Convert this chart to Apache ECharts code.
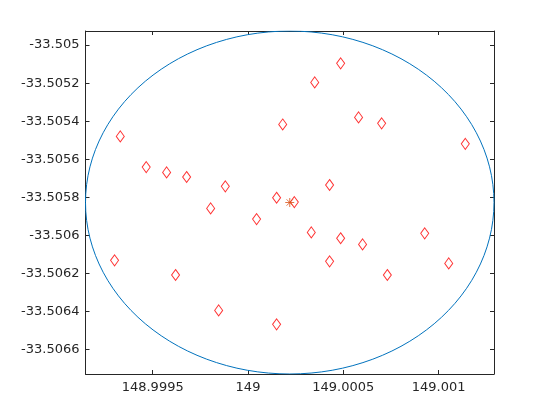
<!DOCTYPE html>
<html>
<head>
<meta charset="utf-8">
<script src="https://cdn.jsdelivr.net/npm/echarts@6/dist/echarts.min.js"></script>
<style>html,body{margin:0;padding:0;background:#fff}#c{width:560px;height:420px}</style>
</head>
<body>
<div id="c"></div>
<script>
// Data
const pointsLon = [148.999330,148.999466,148.999573,148.999678,148.999881,148.999804,148.999300,148.999620,148.999846,149.000045,149.000150,149.000243,149.000182,149.000350,149.000486,149.000580,149.000428,149.000701,149.001140,149.000332,149.000486,149.000601,149.000428,149.000150,149.000927,149.000731,149.001053];
const pointsLat = [-33.505480,-33.505641,-33.505669,-33.505693,-33.505742,-33.505858,-33.506131,-33.506208,-33.506394,-33.505914,-33.505802,-33.505825,-33.505417,-33.505196,-33.505096,-33.505380,-33.505735,-33.505411,-33.505519,-33.505984,-33.506015,-33.506047,-33.506136,-33.506467,-33.505989,-33.506208,-33.506147];
const centerLon = 149.000219;
const centerLat = -33.505827;
const radiusLon = 0.0010715;
const radiusLat = 0.000901;
const xTicks = [148.9995, 149, 149.0005, 149.001];
const yTicks = [-33.505, -33.5052, -33.5054, -33.5056, -33.5058, -33.506, -33.5062, -33.5064, -33.5066];
const xTickLabels = ['148.9995', '149', '149.0005', '149.001'];
const yTickLabels = ['-33.505', '-33.5052', '-33.5054', '-33.5056', '-33.5058', '-33.506', '-33.5062', '-33.5064', '-33.5066'];

const xMin = centerLon - radiusLon, xMax = centerLon + radiusLon;
const yMin = centerLat - radiusLat, yMax = centerLat + radiusLat;

const circle = [];
const N = 120;
for (let i = 0; i <= N; i++) {
  const t = 2 * Math.PI * i / N;
  circle.push([centerLon + radiusLon * Math.cos(t), centerLat + radiusLat * Math.sin(t)]);
}
const pts = pointsLon.map((x, i) => [x, pointsLat[i]]);

function fmt(arr, labels) {
  return function (v) {
    for (let i = 0; i < arr.length; i++) if (Math.abs(arr[i] - v) < 1e-9) return labels[i];
    return '';
  };
}
const axisColor = '#262626';
const font = { fontFamily: 'DejaVu Sans', fontSize: 13, color: '#262626' };

const chart = echarts.init(document.getElementById('c'), null, { renderer: 'canvas' });
chart.setOption({
  animation: false,
  backgroundColor: '#ffffff',
  grid: { left: 85.5, right: 66, top: 31, bottom: 46, containLabel: false },
  xAxis: [
    {
      type: 'value', min: xMin, max: xMax, position: 'bottom',
      axisLine: { show: true, onZero: false, lineStyle: { color: axisColor, width: 1 } },
      axisTick: { show: true, inside: true, length: 4, customValues: xTicks, lineStyle: { color: axisColor } },
      axisLabel: Object.assign({ show: true, margin: 7, customValues: xTicks, formatter: fmt(xTicks, xTickLabels) }, font),
      splitLine: { show: false }
    },
    {
      type: 'value', min: xMin, max: xMax, position: 'top',
      axisLine: { show: true, onZero: false, lineStyle: { color: axisColor, width: 1 } },
      axisTick: { show: true, inside: true, length: 4, customValues: xTicks, lineStyle: { color: axisColor } },
      axisLabel: { show: false },
      splitLine: { show: false }
    }
  ],
  yAxis: [
    {
      type: 'value', min: yMin, max: yMax, position: 'left',
      axisLine: { show: true, onZero: false, lineStyle: { color: axisColor, width: 1 } },
      axisTick: { show: true, inside: true, length: 4, customValues: yTicks, lineStyle: { color: axisColor } },
      axisLabel: Object.assign({ show: true, margin: 6, customValues: yTicks, formatter: fmt(yTicks, yTickLabels) }, font),
      splitLine: { show: false }
    },
    {
      type: 'value', min: yMin, max: yMax, position: 'right',
      axisLine: { show: true, onZero: false, lineStyle: { color: axisColor, width: 1 } },
      axisTick: { show: true, inside: true, length: 4, customValues: yTicks, lineStyle: { color: axisColor } },
      axisLabel: { show: false },
      splitLine: { show: false }
    }
  ],
  series: [
    {
      type: 'line', data: circle, showSymbol: false, symbol: 'none', smooth: false,
      lineStyle: { color: '#0072BD', width: 1 }, z: 2, clip: true
    },
    {
      type: 'scatter', data: pts, symbol: 'diamond', symbolSize: [8, 11],
      itemStyle: { color: 'rgba(0,0,0,0)', borderColor: '#FF0000', borderWidth: 1 }, z: 3
    },
    {
      type: 'scatter', data: [[centerLon, centerLat]],
      symbol: 'path://M0,5 L10,5 M5,0 L5,10 M1.5,1.5 L8.5,8.5 M8.5,1.5 L1.5,8.5', symbolSize: 9,
      itemStyle: { color: 'rgba(0,0,0,0)', borderColor: '#D95319', borderWidth: 1 }, z: 4
    }
  ]
});
</script>
</body>
</html>
